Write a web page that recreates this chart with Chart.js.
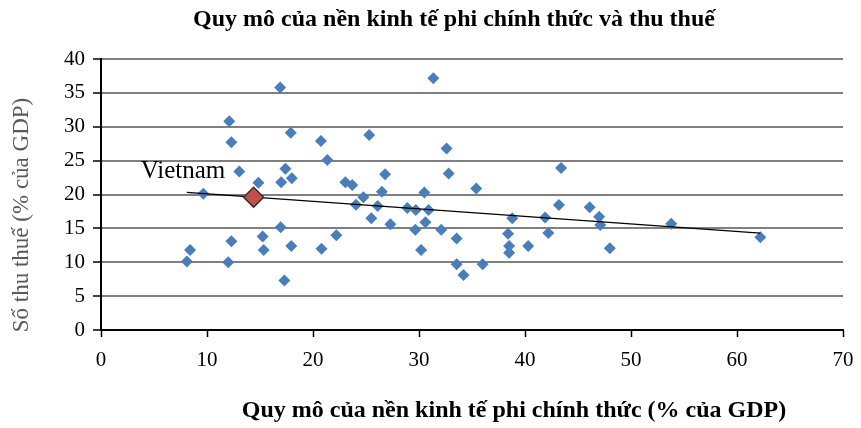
<!DOCTYPE html>
<html>
<head>
<meta charset="utf-8">
<script src="https://cdn.jsdelivr.net/npm/chart.js@4"></script>
<style>
  html, body { margin: 0; padding: 0; background: #fff; }
  #wrap { width: 861px; height: 428px; position: relative; }
</style>
</head>
<body>
<div id="wrap"><canvas id="informalChart"></canvas></div>
<script>
const chartTitle = "Quy mô của nền kinh tế phi chính thức và thu thuế";
const xTitle = "Quy mô của nền kinh tế phi chính thức (% của GDP)";
const yTitle = "Số thu thuế (% của GDP)";

// informal economy size (% GDP) and tax revenue (% GDP)
const informalSize = [16.9, 12.1, 12.3, 17.9, 20.75, 21.35, 13.05, 17.4, 17.0, 18.0, 14.85, 23.05, 9.65,
  31.35, 25.3, 32.6, 43.4, 26.8, 32.8, 23.7, 26.5, 30.5, 35.4, 24.75, 24.05, 26.1, 25.5, 27.3,
  28.9, 29.7, 30.9, 30.6, 29.65, 32.1, 33.55, 30.2, 33.55, 34.2, 36.0, 38.8, 38.4, 38.5, 38.5,
  40.3, 41.9, 42.2, 43.2, 46.1, 47.0, 47.1, 48.0, 53.8, 62.2, 22.2, 16.95, 15.25, 12.3, 8.4,
  8.1, 12.0, 15.35, 17.95, 20.8, 17.3];
const taxRevenue = [35.8, 30.8, 27.7, 29.1, 27.9, 25.1, 23.4, 23.8, 21.8, 22.4, 21.75, 21.8, 20.1,
  37.15, 28.8, 26.8, 23.9, 23.0, 23.1, 21.4, 20.4, 20.3, 20.9, 19.6, 18.5, 18.3, 16.5, 15.6,
  18.0, 17.7, 17.7, 15.9, 14.8, 14.8, 13.5, 11.8, 9.7, 8.1, 9.7, 16.5, 14.2, 12.4, 11.4,
  12.4, 16.6, 14.3, 18.45, 18.1, 16.7, 15.5, 12.05, 15.7, 13.7, 14.0, 15.15, 13.8, 13.1, 11.8,
  10.1, 10.0, 11.8, 12.4, 12.0, 7.3];

const vietnamX = [14.4];
const vietnamY = [19.6];

// trend line end points
const trendX = [8.1, 62.2];
const trendY = [20.3, 14.3];

const xTicks = [0, 10, 20, 30, 40, 50, 60, 70];
const yTicks = [0, 5, 10, 15, 20, 25, 30, 35, 40];

const toPoints = (xs, ys) => xs.map((x, i) => ({ x: x, y: ys[i] }));

const serif = "'Liberation Serif', 'DejaVu Serif', serif";

// titles and the Vietnam label
const textPlugin = {
  id: "textPlugin",
  afterDraw(chart) {
    const ctx = chart.ctx;
    const xs = chart.scales.x, ys = chart.scales.y;
    ctx.save();
    ctx.fillStyle = "#000";
    ctx.textAlign = "center";
    ctx.textBaseline = "middle";
    ctx.font = "bold 24px " + serif;
    ctx.fillText(chartTitle, 454, 20);
    ctx.font = "bold 24px " + serif;
    ctx.fillText(xTitle, 514, 411);

    ctx.save();
    ctx.translate(22, 215);
    ctx.rotate(-Math.PI / 2);
    ctx.fillStyle = "#595959";
    ctx.font = "23px " + serif;
    ctx.fillText(yTitle, 0, 0);
    ctx.restore();

    const px = xs.getPixelForValue(vietnamX[0]);
    const py = ys.getPixelForValue(vietnamY[0]);
    ctx.textAlign = "left";
    ctx.textBaseline = "alphabetic";
    ctx.font = "25px " + serif;
    ctx.fillText("Vietnam", px - 113, py - 19);
    ctx.restore();
  }
};

const ctx = document.getElementById("informalChart").getContext("2d");
new Chart(ctx, {
  type: "scatter",
  data: {
    datasets: [
      {
        label: "Vietnam",
        data: toPoints(vietnamX, vietnamY),
        pointStyle: "rectRot",
        pointRadius: 10,
        pointHoverRadius: 10,
        backgroundColor: "#c0504d",
        borderColor: "#3a2a2a",
        borderWidth: 1.5
      },
      {
        label: "Trend",
        data: toPoints(trendX, trendY),
        showLine: true,
        pointRadius: 0,
        borderColor: "#000",
        borderWidth: 1.2,
        fill: false
      },
      {
        label: "Countries",
        data: toPoints(informalSize, taxRevenue),
        pointStyle: "rectRot",
        pointRadius: 6,
        pointHoverRadius: 6,
        backgroundColor: "#4a7ebb",
        borderColor: "#4a7ebb",
        borderWidth: 0
      }
    ]
  },
  options: {
    responsive: true,
    maintainAspectRatio: false,
    animation: false,
    layout: { padding: { left: 0, top: 59, right: 18, bottom: 0 } },
    plugins: {
      legend: { display: false },
      tooltip: { enabled: false },
      title: { display: false }
    },
    scales: {
      x: {
        type: "linear",
        min: 0,
        max: 70,
        afterBuildTicks: s => { s.ticks = xTicks.map(v => ({ value: v })); },
        afterFit: s => { s.height = 98; s.paddingLeft = 0; s.paddingRight = 0; },
        ticks: { color: "#000", font: { family: serif, size: 21 }, padding: 11 },
        grid: { drawOnChartArea: false, tickLength: 7, tickColor: "#000", tickWidth: 1.5 },
        border: { color: "#000", width: 2 }
      },
      y: {
        type: "linear",
        min: 0,
        max: 40,
        afterBuildTicks: s => { s.ticks = yTicks.map(v => ({ value: v })); },
        afterFit: s => { s.width = 101; s.paddingTop = 0; s.paddingBottom = 0; },
        ticks: { color: "#000", font: { family: serif, size: 21 }, padding: 8 },
        grid: { color: "#808080", lineWidth: 2, tickLength: 8, tickColor: "#000", tickWidth: 1.5 },
        border: { color: "#000", width: 2 }
      }
    }
  },
  plugins: [textPlugin]
});
</script>
</body>
</html>
